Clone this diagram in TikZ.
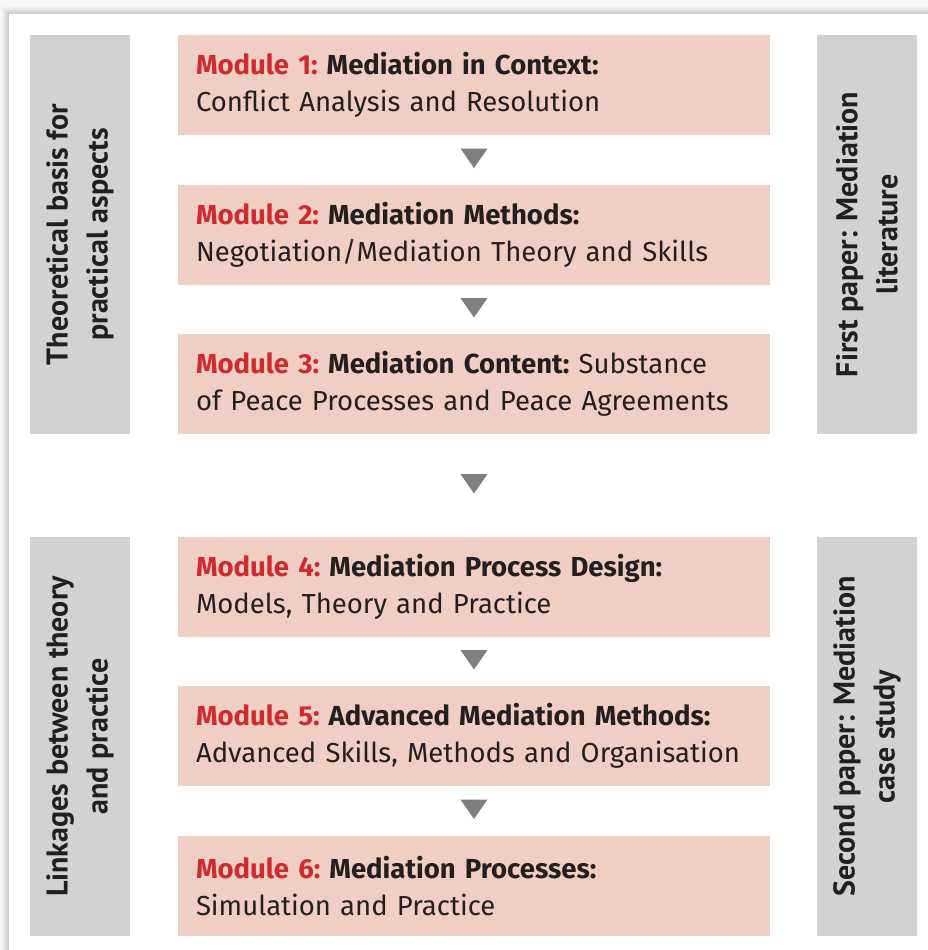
\documentclass[tikz,border=0pt]{standalone}
\usepackage{fontspec}
\setmainfont{Fira Sans}
\newfontfamily\sidefont{PT Sans}
\usetikzlibrary{calc}
\definecolor{modpink}{HTML}{F1CEC3}
\definecolor{modred}{HTML}{CC2B2F}
\definecolor{sidegray}{HTML}{D1D2D4}
\definecolor{trigray}{HTML}{7F7F7F}
\definecolor{inkcol}{HTML}{231F20}
\newcommand{\modhead}[2]{{\color{modred}\bfseries Module #1:}\hspace{9pt}\textbf{#2}}
\begin{document}
\begin{tikzpicture}[x=1pt,y=-1pt,
    modbox/.style={fill=modpink, minimum width=592pt, minimum height=100pt,
      text width=556pt, inner xsep=18pt, align=left, text=inkcol,
      font=\fontsize{27.5}{36.5}\selectfont},
    sidebox/.style={fill=sidegray, rotate=90, minimum width=399pt, minimum height=100pt,
      align=center, text=inkcol, font=\sidefont\fontsize{30}{40}\selectfont\bfseries},
    tri/.style={fill=trigray}]
  \useasboundingbox (0,0) rectangle (928,950);
  % page and its shadow
  \fill[gray!6] (0,0) rectangle (928,950);
  \foreach \d in {1,...,7}
    \fill[black, opacity=0.022] (9-\d,14-\d) rectangle (928,950);
  \fill[white] (9,14) rectangle (928,950);
  % modules
  \node[modbox] (m1) at (474,85) {\modhead{1}{Mediation in Context:}\\Conflict Analysis and Resolution};
  \node[modbox] (m2) at (474,235) {\modhead{2}{Mediation Methods:}\\Negotiation/Mediation Theory and Skills};
  \node[modbox] (m3) at (474,384) {\modhead{3}{Mediation Content:}\hspace{9pt}Substance\\of Peace Processes and Peace Agreements};
  \node[modbox] (m4) at (474,587) {\modhead{4}{Mediation Process Design:}\\Models, Theory and Practice};
  \node[modbox] (m5) at (474,736) {\modhead{5}{Advanced Mediation Methods:}\\Advanced Skills, Methods and Organisation};
  \node[modbox] (m6) at (474,886) {\modhead{6}{Mediation Processes:}\\Simulation and Practice};
  % side labels
  \node[sidebox] (theory) at (80,234.5) {Theoretical basis for\\practical aspects};
  \node[sidebox] (linkage) at (80,736.5) {Linkages between theory\\and practice};
  \node[sidebox] (paper1) at (867,234.5) {First paper: Mediation\\literature};
  \node[sidebox] (paper2) at (867,736.5) {Second paper: Mediation\\case study};
  % arrows between modules
  \foreach \a/\b in {m1/m2,m2/m3,m3/m4,m4/m5,m5/m6}
    \fill[tri] ($(\a.south)!0.5!(\b.north)+(-13.5,-11.5)$) -- ++(27,0) -- ++(-13.5,19.5) -- cycle;
\end{tikzpicture}
\end{document}
